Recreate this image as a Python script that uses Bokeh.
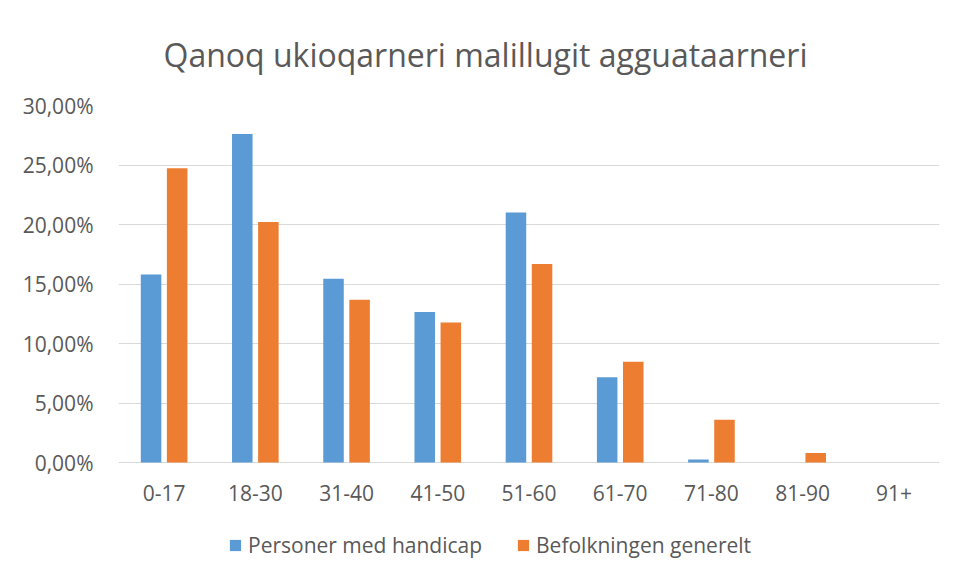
from bokeh.plotting import figure
from bokeh.models import (FactorRange, Range1d, CustomJSTickFormatter, Legend,
                          LegendItem, Title, ColumnDataSource, FixedTicker)
from bokeh.transform import dodge
from bokeh.core.properties import value
from bokeh.embed import file_html
from bokeh.resources import INLINE

categories = ["0-17", "18-30", "31-40", "41-50", "51-60", "61-70", "71-80", "81-90", "91+"]
handicap = [0.1579, 0.2761, 0.1545, 0.1264, 0.2100, 0.0716, 0.0025, 0.0, 0.0]
generelt = [0.2472, 0.2020, 0.1368, 0.1177, 0.1669, 0.0846, 0.0360, 0.0079, 0.0]
y_ticks = [0.0, 0.05, 0.10, 0.15, 0.20, 0.25, 0.30]
series_names = ["Personer med handicap", "Befolkningen generelt"]
title_text = "Qanoq ukioqarneri malillugit agguataarneri"

BLUE = "#5B9BD5"
ORANGE = "#ED7D31"
TEXT = "#595959"
GRID = "#D9D9D9"
FONT = "Open Sans"

# layout (pixels)
FIG_W, FIG_H = 950, 575
FRAME_TOP, ZERO_Y = 105, 462          # y of 30 % line and 0 % line
Y_MAX = 0.30
PX_PER_UNIT = (ZERO_Y - FRAME_TOP) / Y_MAX
Y_START = -(FIG_H - ZERO_Y) / PX_PER_UNIT   # extend frame below zero for labels/legend
LABEL_Y = -30 / PX_PER_UNIT

source = ColumnDataSource(dict(cat=categories, handicap=handicap, generelt=generelt,
                               label_y=[LABEL_Y] * len(categories)))

p = figure(width=FIG_W, height=FIG_H, output_backend="svg", toolbar_location=None,
           x_range=FactorRange(*categories, range_padding=0),
           y_range=Range1d(Y_START, Y_MAX),
           x_axis_location=None,
           min_border_left=118, min_border_right=FIG_W - 939,
           min_border_top=FRAME_TOP, min_border_bottom=0)

p.title = Title(text=title_text, align="left", offset=45, text_font=FONT,
                text_font_size="32px", text_font_style="normal", text_color=TEXT,
                standoff=60)

r1 = p.vbar(x=dodge("cat", -0.143, range=p.x_range), top="handicap", width=0.225,
            source=source, fill_color=BLUE, line_color=None)
r2 = p.vbar(x=dodge("cat", 0.143, range=p.x_range), top="generelt", width=0.225,
            source=source, fill_color=ORANGE, line_color=None)

# category labels under the 0 % line
p.text(x="cat", y="label_y", text="cat", source=source, text_align="center",
       text_baseline="middle", text_font=value(FONT), text_font_size="21px",
       text_color=TEXT)

p.outline_line_color = None
p.xgrid.visible = False
p.ygrid.grid_line_color = GRID
p.ygrid.grid_line_width = 1

p.yaxis.ticker = FixedTicker(ticks=y_ticks)
p.yaxis.formatter = CustomJSTickFormatter(
    code="return (tick*100).toFixed(2).replace('.', ',') + '%';")
ax = p.yaxis[0]
ax.axis_line_color = None
ax.major_tick_line_color = None
ax.minor_tick_line_color = None
ax.major_tick_out = 0
ax.major_tick_in = 0
ax.minor_tick_out = 0
ax.major_label_text_font = FONT
ax.major_label_text_font_size = "21px"
ax.major_label_text_color = TEXT
ax.major_label_standoff = 25

legend = Legend(items=[LegendItem(label=series_names[0], renderers=[r1]),
                       LegendItem(label=series_names[1], renderers=[r2])],
                orientation="horizontal", location=(110, 16),
                label_text_font=FONT, label_text_font_size="21px", label_text_color=TEXT,
                glyph_width=14, glyph_height=14, label_height=14,
                spacing=34, label_standoff=6,
                border_line_color=None, background_fill_alpha=0, margin=0, padding=0)
p.add_layout(legend, "center")

open("out.html", "w").write(file_html(p, INLINE))
